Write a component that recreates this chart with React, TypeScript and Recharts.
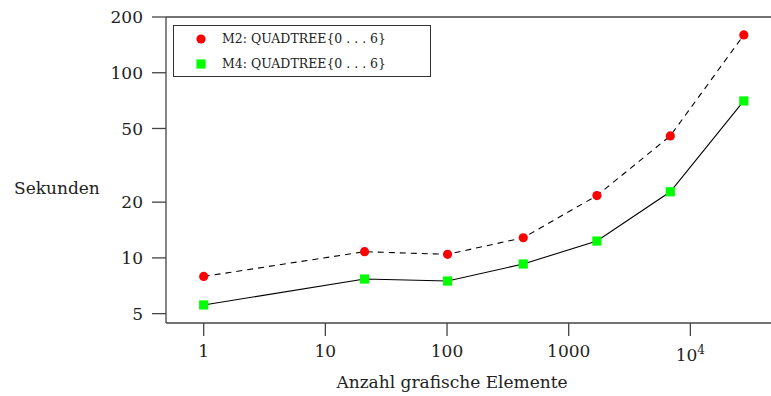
import { LineChart, Line, XAxis, YAxis, ReferenceLine } from 'recharts'

const ELEMENTS = [1, 21, 101, 423, 1706, 6840, 27500]
const M2_SECONDS = [7.94, 10.8, 10.45, 12.85, 21.7, 45.6, 160]
const M4_SECONDS = [5.57, 7.69, 7.5, 9.27, 12.33, 22.75, 70.4]
const X_TICKS = [1, 10, 100, 1000, 10000]
const Y_TICKS = [5, 10, 20, 50, 100, 200]
const SERIES = [
  { key: 'm2', name: 'M2: QUADTREE{0 . . . 6}' },
  { key: 'm4', name: 'M4: QUADTREE{0 . . . 6}' },
]

const data = ELEMENTS.map((n, i) => ({ n, m2: M2_SECONDS[i], m4: M4_SECONDS[i] }))

const FONT = '"DejaVu Serif", serif'
const AXIS = '#444'

function XTick({ x, y, payload }: any) {
  const v = payload.value
  if (v >= 10000) {
    const exp = Math.round(Math.log10(v))
    return (
      <text x={x} y={y + 19} textAnchor="middle" fontFamily={FONT} fontSize={17} fill="#222">
        10<tspan dy={-7} fontSize={12}>{exp}</tspan>
      </text>
    )
  }
  return (
    <text x={x} y={y + 15} textAnchor="middle" fontFamily={FONT} fontSize={17} fill="#222">
      {v}
    </text>
  )
}

function RedDot({ cx, cy }: any) {
  return <circle cx={cx} cy={cy} r={4.6} fill="#ff0000" />
}

function GreenSquare({ cx, cy }: any) {
  return <rect x={cx - 4.6} y={cy - 4.6} width={9.2} height={9.2} fill="#00ff00" />
}

function LegendBox() {
  return (
    <div style={{ position: 'absolute', left: 173, top: 25, border: '1px solid #333', width: 258, height: 52, background: '#fff', boxSizing: 'border-box', paddingTop: 0 }}>
      {SERIES.map((s) => (
        <div key={s.key} style={{ display: 'flex', alignItems: 'center', height: 25, fontFamily: FONT, fontSize: 12.5, color: '#222' }}>
          <svg width={48} height={12}>
            {s.key === 'm2'
              ? <circle cx={27} cy={6} r={4.6} fill="#ff0000" />
              : <rect x={22.4} y={1.4} width={9.2} height={9.2} fill="#00ff00" />}
          </svg>
          <span>{s.name}</span>
        </div>
      ))}
    </div>
  )
}

export default function App() {
  return (
    <div style={{ position: 'absolute', left: 0, top: 0, width: 771, height: 396, background: '#fff' }}>
      <LineChart width={771} height={396} data={data} margin={{ top: 17, right: 0, left: 0, bottom: 0 }}>
        <XAxis
          dataKey="n"
          type="number"
          scale="log"
          domain={[0.49, 46000]}
          allowDataOverflow
          ticks={X_TICKS}
          tick={<XTick />}
          tickSize={13}
          tickMargin={6}
          height={73}
          stroke={AXIS}
          strokeWidth={1.3}
          label={() => (
            <text x={452} y={388} textAnchor="middle" fontFamily={FONT} fontSize={17} fill="#222">
              Anzahl grafische Elemente
            </text>
          )}
        />
        <YAxis
          type="number"
          scale="log"
          domain={[4.45, 200]}
          allowDataOverflow
          ticks={Y_TICKS}
          tickSize={14}
          tickMargin={9}
          width={166}
          stroke={AXIS}
          strokeWidth={1.3}
          tick={{ fontFamily: FONT, fontSize: 17, fill: '#222' }}
          label={() => (
            <text x={14} y={194} fontFamily={FONT} fontSize={17} fill="#222">
              Sekunden
            </text>
          )}
        />
        <ReferenceLine y={200} stroke={AXIS} strokeWidth={1.3} />
        {SERIES.map((s) => (
          <Line
            key={s.key}
            dataKey={s.key}
            name={s.name}
            stroke="#000"
            strokeWidth={1.1}
            strokeDasharray={s.key === 'm2' ? '6 5' : undefined}
            dot={s.key === 'm2' ? <RedDot /> : <GreenSquare />}
            activeDot={false}
            isAnimationActive={false}
          />
        ))}
      </LineChart>
      <LegendBox />
    </div>
  )
}
